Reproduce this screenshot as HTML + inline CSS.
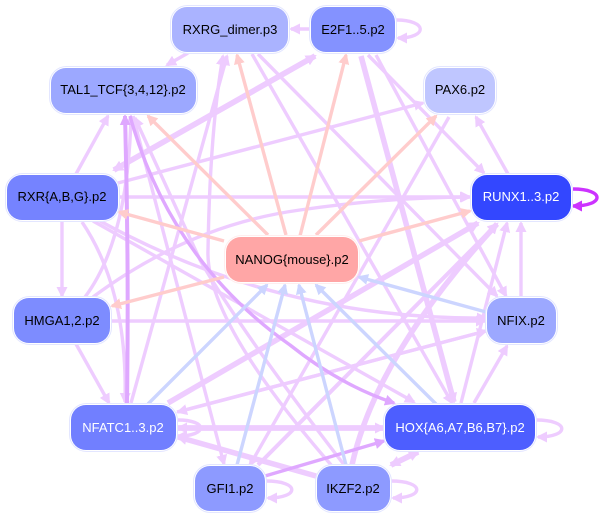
<!DOCTYPE html>
<html><head><meta charset="utf-8"><style>
html,body{margin:0;padding:0;background:#fff}
svg{display:block}
text{font-family:"Liberation Sans",sans-serif;font-size:13px;text-anchor:middle}
.e{fill:none;stroke-linecap:butt}
.p{stroke:#eeccff;stroke-width:3.4}
.t{stroke:#eeccff;stroke-width:5.5}
.r{stroke:#ffcccc;stroke-width:3.4}
.b{stroke:#ccd5ff;stroke-width:3.4}
.d{stroke:#dfa8ff;stroke-width:3.4}
.m{stroke:#cc33ff;stroke-width:3.4}
.o{fill:#fff;stroke:#e3e6ff;stroke-width:1}
</style></head><body>
<svg width="602" height="518" viewBox="0 0 602 518" xmlns="http://www.w3.org/2000/svg">
<defs>
<marker id="mp" markerUnits="userSpaceOnUse" markerWidth="13" markerHeight="12" refX="9" refY="5.500" orient="auto"><path d="M0 0L11 5.500L0 11z" fill="#eeccff"/></marker>
<marker id="mr" markerUnits="userSpaceOnUse" markerWidth="13" markerHeight="12" refX="9" refY="5.500" orient="auto"><path d="M0 0L11 5.500L0 11z" fill="#ffcccc"/></marker>
<marker id="mb" markerUnits="userSpaceOnUse" markerWidth="13" markerHeight="12" refX="9" refY="5.500" orient="auto"><path d="M0 0L11 5.500L0 11z" fill="#ccd5ff"/></marker>
<marker id="md" markerUnits="userSpaceOnUse" markerWidth="13" markerHeight="12" refX="9" refY="5.500" orient="auto"><path d="M0 0L11 5.500L0 11z" fill="#dfa8ff"/></marker>
<marker id="mm" markerUnits="userSpaceOnUse" markerWidth="13" markerHeight="12" refX="9" refY="5.500" orient="auto"><path d="M0 0L11 5.500L0 11z" fill="#cc33ff"/></marker>
</defs>
<g class="e">
<path class="e p" marker-end="url(#mp)" d="M188 53L167 65"/>
<path class="e p" marker-end="url(#mp)" d="M311 29L291 29"/>
<path class="e p" marker-end="url(#mp)" d="M76 174L108 116"/>
<path class="e t" marker-end="url(#mp)" d="M315 56L114 170"/>
<path class="e t" marker-end="url(#mp)" d="M114 170L315 56"/>
<path class="e p" marker-end="url(#mp)" d="M118 183L423 103"/>
<path class="e p" marker-end="url(#mp)" d="M118 197L469 197"/>
<path class="e p" marker-end="url(#mp)" d="M62 220L62 296"/>
<path class="e p" marker-end="url(#mp)" d="M82 222Q128 290 125 402"/>
<path class="e p" marker-end="url(#mp)" d="M93 221L414 402"/>
<path class="e p" marker-end="url(#mp)" d="M100 221Q280 320 486 318"/>
<path class="e p" marker-end="url(#mp)" d="M76 344L109 403"/>
<path class="e p" marker-end="url(#mp)" d="M112 321L485 321"/>
<path class="e p" marker-end="url(#mp)" d="M85 297Q128 240 131 116"/>
<path class="e p" marker-end="url(#mp)" d="M93 297Q190 225 300 210Q390 197 470 197"/>
<path class="e p" marker-end="url(#mp)" d="M131 403L227 56"/>
<path class="e p" marker-end="url(#mp)" d="M332 466Q205 320 208 250Q210 130 223 56"/>
<path class="e p" marker-end="url(#mp)" d="M133 116L224 464"/>
<path class="e p" marker-end="url(#mp)" d="M345 466Q240 330 200 260L135 118"/>
<path class="e p" marker-end="url(#mp)" d="M252 54L452 403"/>
<path class="e p" marker-end="url(#mp)" d="M258 54L497 296"/>
<path class="e t" marker-end="url(#mp)" d="M361 56L454 402"/>
<path class="e p" marker-end="url(#mp)" d="M368 55L484 173"/>
<path class="e p" marker-end="url(#mp)" d="M376 55L506 296"/>
<path class="e p" marker-end="url(#mp)" d="M449 117L250 465"/>
<path class="e p" marker-end="url(#mp)" d="M508 174L476 117"/>
<path class="e p" marker-end="url(#mp)" d="M521 297L521 223"/>
<path class="e p" marker-end="url(#mp)" d="M461 403L507 223"/>
<path class="e p" marker-end="url(#mp)" d="M474 403L507 346"/>
<path class="e p" style="stroke-width:4" marker-end="url(#mp)" d="M258 465L497 224"/>
<path class="e t" marker-end="url(#mp)" d="M352 465Q376 356 497 224"/>
<path class="e t" marker-end="url(#mp)" d="M168 403L478 223"/>
<path class="e p" marker-end="url(#mp)" d="M177 412L486 331"/>
<path class="e p" marker-end="url(#mp)" d="M486 331L178 412"/>
<path class="e t" marker-end="url(#mp)" d="M178 428L384 428"/>
<path class="e t" marker-end="url(#mp)" d="M384 428L178 428"/>
<path class="e t" marker-end="url(#mp)" d="M316 476L178 437"/>
<path class="e t" marker-end="url(#mp)" d="M391 465L418 452"/>
<path class="e t" marker-end="url(#mp)" d="M418 452L391 465"/>
<!-- loops -->
<path class="e p" marker-end="url(#mp)" d="M396 20C428 20 428 38 398 38"/>
<path class="e p" marker-end="url(#mp)" d="M178 420C208 420 208 436 178 436"/>
<path class="e p" marker-end="url(#mp)" d="M536 420C570 420 570 437 538 437"/>
<path class="e p" marker-end="url(#mp)" d="M266 481C300 481 300 498 268 498"/>
<path class="e p" marker-end="url(#mp)" d="M391 481C425 481 425 498 393 498"/>
<path class="e m" marker-end="url(#mm)" d="M573 189C605 189 605 206 573 206"/>
<!-- dark -->
<path class="e d" style="stroke-width:4" marker-end="url(#md)" d="M127 403Q129 260 125 116"/>
<path class="e d" marker-end="url(#md)" d="M130 116Q170 260 290 345Q340 385 394 403"/>
<path class="e d" marker-end="url(#md)" d="M265 476L384 441"/>
<!-- pink -->
<path class="e r" marker-end="url(#mr)" d="M286 235L237 55"/>
<path class="e r" marker-end="url(#mr)" d="M300 236L346 55"/>
<path class="e r" marker-end="url(#mr)" d="M268 235L148 116"/>
<path class="e r" marker-end="url(#mr)" d="M316 235L436 116"/>
<path class="e r" marker-end="url(#mr)" d="M224 241L119 212"/>
<path class="e r" marker-end="url(#mr)" d="M359 241L470 211"/>
<path class="e r" marker-end="url(#mr)" d="M224 277L112 306"/>
<!-- blue -->
<path class="e b" marker-end="url(#mb)" d="M148 404L267 285"/>
<path class="e b" marker-end="url(#mb)" d="M237 465L285 285"/>
<path class="e b" marker-end="url(#mb)" d="M346 465L299 285"/>
<path class="e b" marker-end="url(#mb)" d="M436 404L316 285"/>
<path class="e b" marker-end="url(#mb)" d="M486 312L359 277"/>
</g>
<!-- nodes -->
<rect class="o" x="170.500" y="5.500" width="119" height="48" rx="17"/><rect x="172" y="7" width="116" height="45" rx="15" fill="#aab3ff"/><text x="230" y="34" fill="#000">RXRG_dimer.p3</text>
<rect class="o" x="309.500" y="5.500" width="87" height="48" rx="17"/><rect x="311" y="7" width="84" height="45" rx="15" fill="#8492ff"/><text x="353" y="34" fill="#000">E2F1..5.p2</text>
<rect class="o" x="49.500" y="66.500" width="148" height="48" rx="17"/><rect x="51" y="68" width="145" height="45" rx="15" fill="#9ca8ff"/><text x="123" y="94" fill="#000">TAL1_TCF{3,4,12}.p2</text>
<rect class="o" x="423.500" y="66.500" width="73" height="48" rx="17"/><rect x="425" y="68" width="70" height="45" rx="15" fill="#bfc6ff"/><text x="460" y="94" fill="#000">PAX6.p2</text>
<rect class="o" x="5.500" y="173.500" width="114" height="48" rx="17"/><rect x="7" y="175" width="111" height="45" rx="15" fill="#7583ff"/><text x="62" y="201" fill="#000">RXR{A,B,G}.p2</text>
<rect class="o" x="470.500" y="173.500" width="102" height="48" rx="17"/><rect x="472" y="175" width="99" height="45" rx="15" fill="#3347ff"/><text x="521" y="201" fill="#fff">RUNX1..3.p2</text>
<rect class="o" x="224.500" y="235.500" width="135" height="48" rx="17" style="stroke:#ffeeee"/><rect x="226" y="237" width="132" height="45" rx="15" fill="#ffa6a6"/><text x="292" y="264" fill="#000">NANOG{mouse}.p2</text>
<rect class="o" x="12.500" y="296.500" width="99" height="48" rx="17"/><rect x="14" y="298" width="96" height="45" rx="15" fill="#7d8cff"/><text x="62" y="325" fill="#000">HMGA1,2.p2</text>
<rect class="o" x="485.500" y="296.500" width="72" height="48" rx="17"/><rect x="487" y="298" width="69" height="45" rx="15" fill="#9ca8ff"/><text x="521" y="325" fill="#000">NFIX.p2</text>
<rect class="o" x="69.500" y="403.500" width="108" height="48" rx="17"/><rect x="71" y="405" width="105" height="45" rx="15" fill="#717fff"/><text x="123" y="432" fill="#fff">NFATC1..3.p2</text>
<rect class="o" x="383.500" y="403.500" width="153" height="48" rx="17"/><rect x="385" y="405" width="150" height="45" rx="15" fill="#4d5eff"/><text x="460" y="432" fill="#fff">HOX{A6,A7,B6,B7}.p2</text>
<rect class="o" x="193.500" y="464.500" width="73" height="48" rx="17"/><rect x="195" y="466" width="70" height="45" rx="15" fill="#8d9aff"/><text x="230" y="493" fill="#000">GFI1.p2</text>
<rect class="o" x="315.500" y="464.500" width="76" height="48" rx="17"/><rect x="317" y="466" width="73" height="45" rx="15" fill="#8d9aff"/><text x="353" y="493" fill="#000">IKZF2.p2</text>
</svg>
</body></html>
